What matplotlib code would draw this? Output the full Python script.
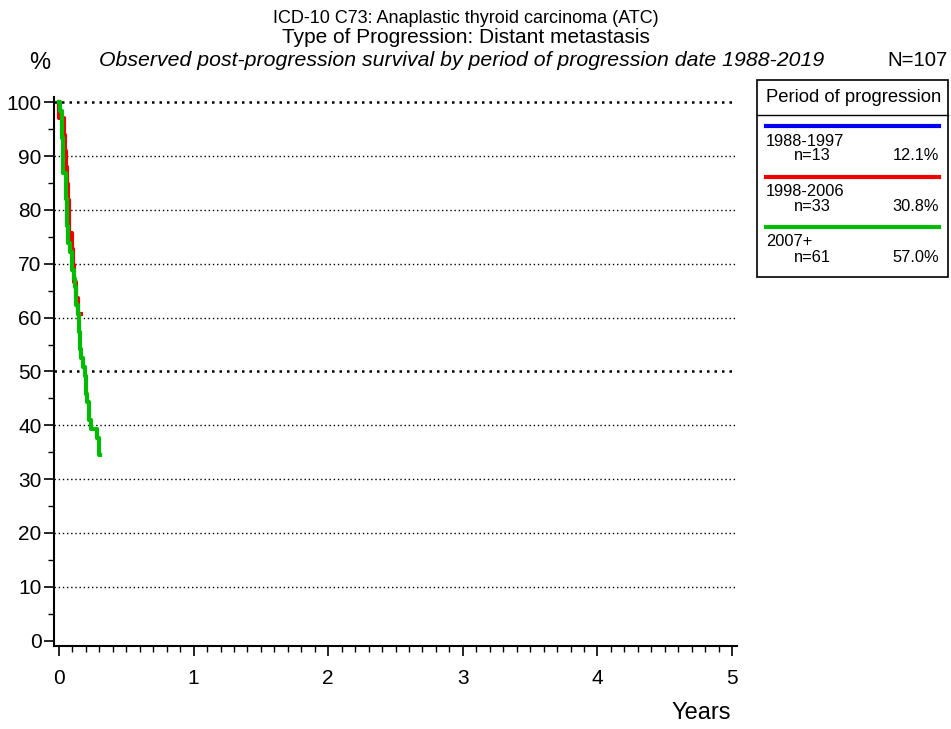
import matplotlib
matplotlib.use("Agg")
import matplotlib.pyplot as plt
from matplotlib.ticker import MultipleLocator

plt.rcParams['font.family'] = ['Liberation Sans', 'DejaVu Sans']

# survival curves (years, % surviving)
red_t = [0.0, 0.003, 0.040, 0.048, 0.055, 0.062, 0.068, 0.075, 0.095, 0.105, 0.115, 0.130, 0.140, 0.152, 0.160]
red_s = [100, 97.0, 93.9, 90.9, 87.9, 84.8, 81.8, 75.8, 72.7, 69.7, 66.7, 63.6, 60.6, 60.6, 60.6]

green_t = [0.0, 0.010, 0.020, 0.030, 0.055, 0.060, 0.070, 0.080, 0.095, 0.110, 0.120, 0.130,
           0.140, 0.150, 0.158, 0.165, 0.180, 0.190, 0.200, 0.210, 0.220, 0.235, 0.285,
           0.295, 0.300, 0.305]
green_s = [100, 98.4, 93.4, 86.9, 82.0, 77.0, 73.8, 72.1, 68.9, 67.2, 65.6, 62.3,
           60.7, 57.4, 54.1, 52.5, 50.8, 49.2, 45.9, 44.3, 41.0, 39.3, 37.7,
           36.1, 34.4, 34.4]

periods = ['1988-1997', '1998-2006', '2007+']
counts = [13, 33, 61]
shares = ['12.1%', '30.8%', '57.0%']
colors = ['#0000ee', '#ee0000', '#00bb00']

fig = plt.figure(figsize=(9.51, 7.29), dpi=100)
ax = fig.add_axes([0.0568, 0.1143, 0.7182, 0.7531])

ax.step(red_t, red_s, where='post', color=colors[1], lw=3)
ax.step(green_t, green_s, where='post', color=colors[2], lw=3)

ax.set_xlim(-0.037, 5.037)
ax.set_ylim(-0.93, 101.04)

for y in range(10, 101, 10):
    lw = 1.8 if y in (50, 100) else 1.0
    ax.axhline(y, color='black', lw=lw, ls=(0, (1, 2)), zorder=0)

ax.xaxis.set_major_locator(MultipleLocator(1))
ax.xaxis.set_minor_locator(MultipleLocator(0.1))
ax.yaxis.set_major_locator(MultipleLocator(10))
ax.yaxis.set_minor_locator(MultipleLocator(5))
ax.tick_params(axis='both', which='major', labelsize=15, length=7, width=1.2, color='black')
ax.tick_params(axis='both', which='minor', length=4, width=1.0)
ax.tick_params(axis='x', pad=10)
ax.tick_params(axis='y', pad=2)

for side in ('top', 'right'):
    ax.spines[side].set_visible(False)
for side in ('left', 'bottom'):
    ax.spines[side].set_linewidth(1.5)

fig.text(731 / 951, 1 - 713 / 729, 'Years', ha='right', va='center', fontsize=17)

fig.text(0.490, 0.975, 'ICD-10 C73: Anaplastic thyroid carcinoma (ATC)', ha='center', va='center', fontsize=13)
fig.text(0.490, 0.949, 'Type of Progression: Distant metastasis', ha='center', va='center', fontsize=15)
fig.text(0.485, 0.917, 'Observed post-progression survival by period of progression date 1988-2019',
         ha='center', va='center', fontsize=15.3, style='italic')
fig.text(0.042, 0.914, '%', ha='center', va='center', fontsize=17)
fig.text(0.996, 0.917, 'N=107', ha='right', va='center', fontsize=14.7)

# legend box
W, H = 951, 729
def fx(px):
    return px / W
def fy(py):
    return 1 - py / H

box = plt.Rectangle((fx(757), fy(277)), fx(948) - fx(757), fy(80) - fy(277),
                    transform=fig.transFigure, fill=False, ec='black', lw=1.2)
fig.add_artist(box)
fig.add_artist(plt.Line2D([fx(757), fx(948)], [fy(115), fy(115)], transform=fig.transFigure,
                          color='black', lw=1.0))
fig.text(fx(854), fy(97), 'Period of progression', ha='center', va='center', fontsize=13.3)

for i, (p, n, s, c) in enumerate(zip(periods, counts, shares, colors)):
    y0 = 126 + i * 50.5
    fig.add_artist(plt.Line2D([fx(766), fx(939)], [fy(y0), fy(y0)], transform=fig.transFigure,
                              color=c, lw=3))
    fig.text(fx(766), fy(y0 + 15), p, ha='left', va='center', fontsize=11.8)
    fig.text(fx(831), fy(y0 + 30), 'n=%d' % n, ha='right', va='center', fontsize=11.8)
    fig.text(fx(939), fy(y0 + 30), s, ha='right', va='center', fontsize=11.8)

fig.savefig('out.png', dpi=100)
